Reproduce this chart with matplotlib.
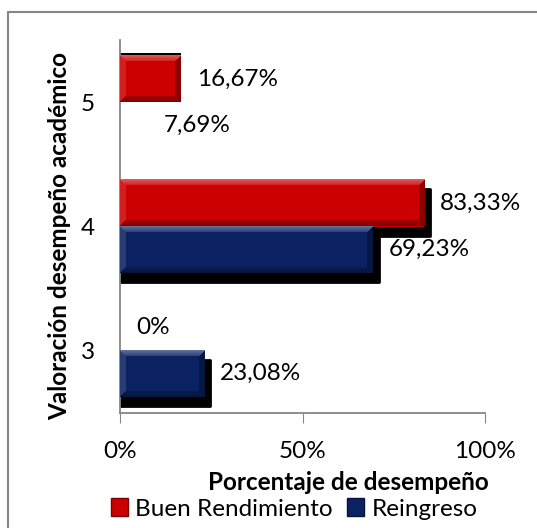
import numpy as np
import matplotlib
matplotlib.use('Agg')
import matplotlib.pyplot as plt
from matplotlib.patches import Rectangle, Patch
from matplotlib.transforms import ScaledTranslation
from matplotlib.colors import to_rgb

niveles = ['3', '4', '5']
buen_rend = [0, 83.33, 16.67]
reingreso = [23.08, 69.23, 7.69]
etq_buen = ['0%', '83,33%', '16,67%']
etq_rein = ['23,08%', '69,23%', '7,69%']
series = ['Buen Rendimiento', 'Reingreso']

# estilo
rojo = '#CC0000'
azul = '#0B2262'
rein_visible = [True, True, False]
fs = 17.5
plt.rcParams['font.family'] = ['Lato', 'DejaVu Sans']

fig = plt.figure(figsize=(5.37, 5.28), dpi=100)
ax = fig.add_axes([120/537, 1-413/528, 365/537, 373/528])
ax.set_xlim(0, 100)
ax.set_ylim(-0.5, 2.5)
h = 0.37
y = np.arange(len(niveles))
extra = 6 / 365 * 100  # sombra 6 px a la derecha


def claro(c, f):
    r = np.array(to_rgb(c))
    return r + (1 - r) * f


def oscuro(c, f):
    return np.array(to_rgb(c)) * (1 - f)


def bisel(x1, yc, color):
    # imagen con bisel de unos 6 px en los bordes
    p0 = ax.transData.transform((0, yc - h/2))
    p1 = ax.transData.transform((x1, yc + h/2))
    wpx = max(int(round(p1[0] - p0[0])), 1)
    hpx = max(int(round(p1[1] - p0[1])), 1)
    img = np.zeros((hpx, wpx, 3))
    img[:] = to_rgb(color)
    b = 6
    for i in range(hpx):
        for j in range(wpx):
            dt, db, dl, dr = i, hpx-1-i, j, wpx-1-j
            m = min(dt, db, dl, dr)
            if m >= b:
                continue
            if m == dt:
                img[i, j] = claro(color, 0.35 - 0.04*dt)
            elif m == db:
                img[i, j] = oscuro(color, 0.35 - 0.03*db)
            elif m == dl:
                img[i, j] = claro(color, 0.12)
            else:
                img[i, j] = oscuro(color, 0.3)
    ax.imshow(img, extent=[0, x1, yc - h/2, yc + h/2], aspect='auto',
              zorder=3, interpolation='nearest')


sombra = ax.transData + ScaledTranslation(0, -9/100, fig.dpi_scale_trans)
sombra_arriba = ax.transData + ScaledTranslation(0, 3/100, fig.dpi_scale_trans)

for i in range(len(niveles)):
    yr = y[i] + h/2
    yb = y[i] - h/2
    if buen_rend[i] > 0:
        if i == 2:
            ax.barh(yr, buen_rend[i], height=h, color='black', transform=sombra_arriba,
                    zorder=2)
        else:
            ax.barh(yr, buen_rend[i] + extra, height=h, color='black', transform=sombra,
                    zorder=2, linewidth=2, edgecolor='black', joinstyle='round')
        ax.barh(yr, buen_rend[i], height=h, color=rojo, zorder=3)
        bisel(buen_rend[i], yr, rojo)
    if reingreso[i] > 0 and rein_visible[i]:
        ax.barh(yb, reingreso[i] + extra, height=h, color='black', transform=sombra,
                zorder=2, linewidth=2, edgecolor='black', joinstyle='round')
        ax.barh(yb, reingreso[i], height=h, color=azul, zorder=3)
        bisel(reingreso[i], yb, azul)
    ax.annotate(etq_buen[i], (buen_rend[i], yr), xytext=(16, 0),
                textcoords='offset pixels', va='center', ha='left', fontsize=fs)
    ax.annotate(etq_rein[i], (reingreso[i], yb), xytext=(16, 0),
                textcoords='offset pixels', va='center', ha='left', fontsize=fs)

ax.set_xlim(0, 100)
ax.set_ylim(-0.5, 2.5)

ax.set_yticks(y)
ax.set_yticklabels(niveles, fontsize=fs)
ax.set_xticks([0, 50, 100])
ax.set_xticklabels(['0%', '50%', '100%'], fontsize=fs)
ax.tick_params(axis='y', length=0, pad=18)
ax.tick_params(axis='x', length=7, color='#868686', pad=13)
for s in ['top', 'right']:
    ax.spines[s].set_visible(False)
for s in ['left', 'bottom']:
    ax.spines[s].set_color('#868686')
    ax.spines[s].set_linewidth(1.3)

ax.set_xlabel('Porcentaje de desempeño', fontsize=fs, fontweight='bold')
ax.xaxis.set_label_coords((348-120)/365, (413-482)/373)
ax.xaxis.label.set_va('center')
ax.set_ylabel('Valoración desempeño académico', fontsize=fs, fontweight='bold')
ax.yaxis.set_label_coords((60-120)/365, (413-236)/373)
ax.yaxis.label.set_va('center')

handles = [Patch(facecolor=rojo, edgecolor='#7A0000'),
           Patch(facecolor=azul, edgecolor='#061440')]
fig.legend(handles, series, loc='center', bbox_to_anchor=(294/537, 1-509/528),
           ncol=2, frameon=False, fontsize=fs, handlelength=0.7,
           handleheight=0.7, handletextpad=0.3, columnspacing=0.6)

fig.patches.append(Rectangle((8/537, -0.1), 1.0, 1.1 - 12/528, fill=False,
                             edgecolor='#868686', linewidth=1.5,
                             transform=fig.transFigure, figure=fig))

fig.savefig('out.png', dpi=100)
